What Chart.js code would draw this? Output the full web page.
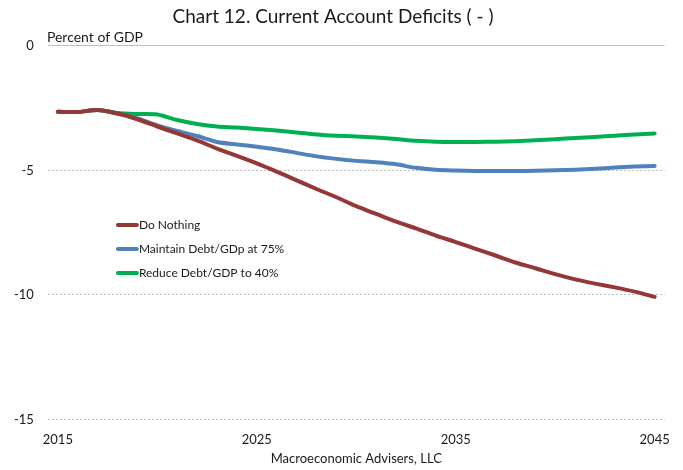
<!DOCTYPE html>
<html>
<head>
<meta charset="utf-8">
<script src="https://cdn.jsdelivr.net/npm/chart.js@4"></script>
<style>
  html, body { margin: 0; padding: 0; background: #fff; }
  #wrap { width: 683px; height: 470px; }
</style>
</head>
<body>
<div id="wrap"><canvas id="line-chart" width="683" height="470"></canvas></div>
<script>
var years = [];
for (var y = 2015; y <= 2045; y++) years.push(String(y));

var doNothing = [-2.65, -2.66, -2.58, -2.72, -2.95, -3.24, -3.52, -3.80, -4.13, -4.42,
                 -4.72, -5.05, -5.40, -5.75, -6.08, -6.44, -6.75, -7.06, -7.33, -7.62,
                 -7.88, -8.15, -8.42, -8.70, -8.93, -9.17, -9.38, -9.55, -9.70, -9.87, -10.08];
var maintain75 = [-2.65, -2.66, -2.58, -2.72, -2.92, -3.20, -3.42, -3.62, -3.86, -3.96,
                  -4.05, -4.16, -4.30, -4.44, -4.54, -4.62, -4.68, -4.76, -4.90, -4.98,
                  -5.01, -5.03, -5.03, -5.03, -5.02, -5.00, -4.98, -4.94, -4.89, -4.85, -4.83];
var reduce40 = [-2.65, -2.66, -2.58, -2.70, -2.74, -2.76, -2.98, -3.14, -3.24, -3.28,
                -3.34, -3.40, -3.48, -3.56, -3.61, -3.64, -3.68, -3.74, -3.81, -3.85,
                -3.86, -3.86, -3.85, -3.83, -3.79, -3.75, -3.70, -3.66, -3.61, -3.56, -3.52];
var yTicks = [0, -5, -10, -15];

var FONT = 'Lato, "Open Sans", sans-serif';

// legend, unit note and source line drawn by hand, like the original
var extras = {
  id: 'extras',
  afterDraw: function (chart) {
    var c = chart.ctx, a = chart.chartArea;
    c.save();
    c.fillStyle = '#1a1a1a';
    c.textBaseline = 'middle';
    c.textAlign = 'left';
    c.font = '14px ' + FONT;
    c.fillText('Percent of GDP', a.left - 1, 37);

    c.font = '12px ' + FONT;
    chart.data.datasets.forEach(function (ds, i) {
      var ly = 225 + i * 24;
      c.strokeStyle = ds.borderColor;
      c.lineWidth = 4;
      c.lineCap = 'round';
      c.beginPath();
      c.moveTo(a.left + 70, ly);
      c.lineTo(a.left + 89, ly);
      c.stroke();
      c.fillText(ds.label, a.left + 91, ly);
    });

    c.textAlign = 'center';
    c.font = '13px ' + FONT;
    c.fillText('Macroeconomic Advisers, LLC', (a.left + a.right) / 2, 459);
    c.restore();
  }
};

new Chart(document.getElementById('line-chart'), {
  type: 'line',
  data: {
    labels: years,
    datasets: [
      { label: 'Do Nothing', data: doNothing, borderColor: '#953735' },
      { label: 'Maintain Debt/GDp at 75%', data: maintain75, borderColor: '#4f81bd' },
      { label: 'Reduce Debt/GDP to 40%', data: reduce40, borderColor: '#00b050' }
    ]
  },
  options: {
    responsive: false,
    animation: false,
    layout: { padding: { top: 0, left: 0, right: 17, bottom: 9 } },
    elements: {
      line: { borderWidth: 4, tension: 0.25, borderCapStyle: 'round', fill: false },
      point: { radius: 0 }
    },
    plugins: {
      legend: { display: false },
      tooltip: { enabled: false },
      title: {
        display: true,
        text: 'Chart 12. Current Account Deficits ( - )',
        color: '#1a1a1a',
        font: { family: FONT, size: 19, weight: 'normal' },
        padding: { top: 5, bottom: 18 }
      }
    },
    scales: {
      x: {
        offset: true,
        grid: { display: false, drawTicks: false },
        border: { display: false },
        ticks: {
          autoSkip: false,
          maxRotation: 0,
          padding: 13,
          color: '#1a1a1a',
          font: { family: FONT, size: 13 },
          callback: function (value, index) {
            return index % 10 === 0 ? this.getLabelForValue(value) : '';
          }
        }
      },
      y: {
        min: -15,
        max: 0,
        afterBuildTicks: function (axis) {
          axis.ticks = yTicks.map(function (v) { return { value: v }; });
        },
        grid: { color: '#bfbfbf', lineWidth: 1, drawTicks: false },
        border: {
          display: false,
          dash: function (ctx) { return ctx.tick && ctx.tick.value === 0 ? [] : [2, 2]; }
        },
        ticks: {
          padding: 14,
          color: '#1a1a1a',
          font: { family: FONT, size: 13 }
        }
      }
    }
  },
  plugins: [extras]
});
</script>
</body>
</html>
